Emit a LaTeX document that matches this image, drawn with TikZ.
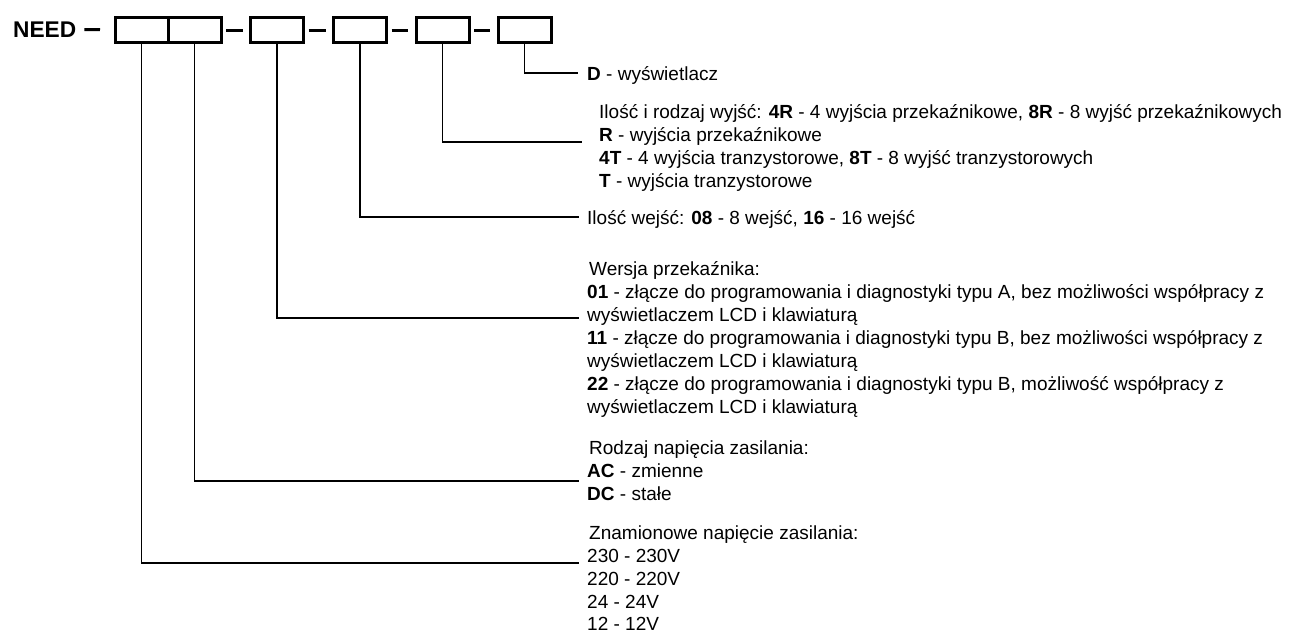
\documentclass[tikz,border=0pt]{standalone}
\usepackage{fontspec}
\setmainfont{Liberation Sans}
\usepackage{tikz}

\tikzset{
	slot/.style={shape=rectangle, draw, line width=3pt, minimum width=53pt, minimum height=25pt, inner sep=0pt, outer sep=0pt},
	joiner/.style={line width=3pt, shorten <=5pt, shorten >=8pt},
	leader/.style={line width=1.2pt},
	txt/.style={anchor=base west, inner sep=0pt, font=\fontsize{19}{23}\selectfont}
}

\begin{document}
\begin{tikzpicture}[x=1pt, y=-1pt]
	\useasboundingbox (0,0) rectangle (1290,632);
	\path (13,37) node (need) [anchor=base west, inner sep=0pt, font=\fontsize{22.7}{26}\selectfont\bfseries] {NEED}
		  (141.5,30) node (box1) [slot] {}
		  (194.5,30) node (box2) [slot] {}
		  (277,30) node (box3) [slot] {}
		  (360,30) node (box4) [slot] {}
		  (442.5,30) node (box5) [slot] {}
		  (524.5,30) node (box6) [slot] {};
	\draw[joiner, shorten <=8pt, shorten >=15pt] (need) -- (box1);
	\draw[joiner] (box2) -- (box3);
	\draw[joiner] (box3) -- (box4);
	\draw[joiner] (box4) -- (box5);
	\draw[joiner] (box5) -- (box6);

	\path (587,80) node (disp) [txt] {\textbf{D} - wyświetlacz}
		  (599,118) node (out1) [txt] {Ilość i rodzaj wyjść: \textbf{4R} - 4 wyjścia przekaźnikowe, \textbf{8R} - 8 wyjść przekaźnikowych}
		  (599,141) node (out2) [txt] {\textbf{R} - wyjścia przekaźnikowe}
		  (599,164) node (out3) [txt] {\textbf{4T} - 4 wyjścia tranzystorowe, \textbf{8T} - 8 wyjść tranzystorowych}
		  (599,187) node (out4) [txt] {\textbf{T} - wyjścia tranzystorowe}
		  (587,224) node (inp) [txt] {Ilość wejść: \textbf{08} - 8 wejść, \textbf{16} - 16 wejść}
		  (589,275) node (ver0) [txt] {Wersja przekaźnika:}
		  (587,298) node (ver1) [txt] {\textbf{01} - złącze do programowania i diagnostyki typu A, bez możliwości współpracy z}
		  (587,321) node (ver2) [txt] {wyświetlaczem LCD i klawiaturą}
		  (587,344) node (ver3) [txt] {\textbf{11} - złącze do programowania i diagnostyki typu B, bez możliwości współpracy z}
		  (587,367) node (ver4) [txt] {wyświetlaczem LCD i klawiaturą}
		  (587,390) node (ver5) [txt] {\textbf{22} - złącze do programowania i diagnostyki typu B, możliwość współpracy z}
		  (587,413) node (ver6) [txt] {wyświetlaczem LCD i klawiaturą}
		  (589,454) node (sup0) [txt] {Rodzaj napięcia zasilania:}
		  (587,477) node (sup1) [txt] {\textbf{AC} - zmienne}
		  (587,500) node (sup2) [txt] {\textbf{DC} - stałe}
		  (589,539) node (volt0) [txt] {Znamionowe napięcie zasilania:}
		  (587,562) node (volt1) [txt] {230 - 230V}
		  (587,585) node (volt2) [txt] {220 - 220V}
		  (587,608) node (volt3) [txt] {24 - 24V}
		  (587,630) node (volt4) [txt] {12 - 12V};

	\coordinate (end1) at (579,563);
	\coordinate (end2) at (579,481);
	\coordinate (end3) at (579,318);
	\coordinate (end4) at (579,217);
	\coordinate (end5) at (582,142);
	\coordinate (end6) at (578,73);
	\draw[leader] (box1.south) |- (end1);
	\draw[leader] (box2.south) |- (end2);
	\draw[leader] (box3.south) |- (end3);
	\draw[leader] (box4.south) |- (end4);
	\draw[leader] (box5.south) |- (end5);
	\draw[leader] (box6.south) |- (end6);
\end{tikzpicture}
\end{document}
